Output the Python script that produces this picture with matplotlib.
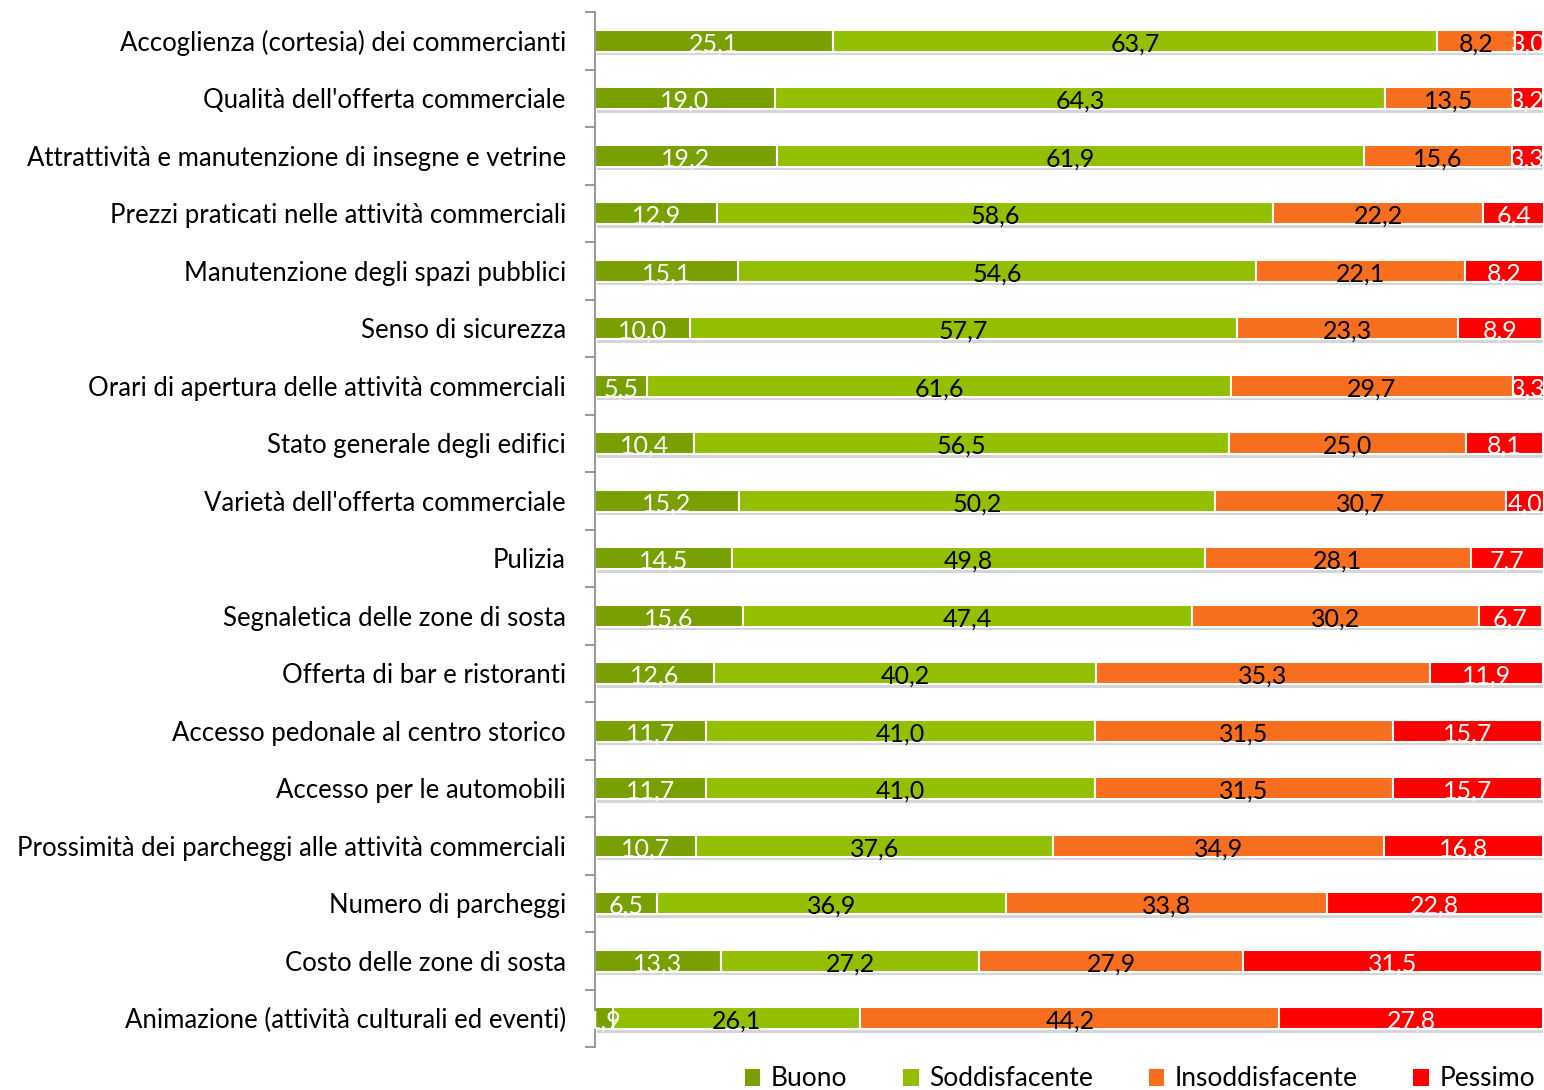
import matplotlib.pyplot as plt
from matplotlib.patches import Patch
import matplotlib.patheffects as pe
import numpy as np

# Data (percentages)
categories = [
    "Accoglienza (cortesia) dei commercianti",
    "Qualità dell'offerta commerciale",
    "Attrattività e manutenzione di insegne e vetrine",
    "Prezzi praticati nelle attività commerciali",
    "Manutenzione degli spazi pubblici",
    "Senso di sicurezza",
    "Orari di apertura delle attività commerciali",
    "Stato generale degli edifici",
    "Varietà dell'offerta commerciale",
    "Pulizia",
    "Segnaletica delle zone di sosta",
    "Offerta di bar e ristoranti",
    "Accesso pedonale al centro storico",
    "Accesso per le automobili",
    "Prossimità dei parcheggi alle attività commerciali",
    "Numero di parcheggi",
    "Costo delle zone di sosta",
    "Animazione (attività culturali ed eventi)",
]
buono = [25.1, 19.0, 19.2, 12.9, 15.1, 10.0, 5.5, 10.4, 15.2, 14.5, 15.6, 12.6, 11.7, 11.7, 10.7, 6.5, 13.3, 1.9]
soddisfacente = [63.7, 64.3, 61.9, 58.6, 54.6, 57.7, 61.6, 56.5, 50.2, 49.8, 47.4, 40.2, 41.0, 41.0, 37.6, 36.9, 27.2, 26.1]
insoddisfacente = [8.2, 13.5, 15.6, 22.2, 22.1, 23.3, 29.7, 25.0, 30.7, 28.1, 30.2, 35.3, 31.5, 31.5, 34.9, 33.8, 27.9, 44.2]
pessimo = [3.0, 3.2, 3.3, 6.4, 8.2, 8.9, 3.3, 8.1, 4.0, 7.7, 6.7, 11.9, 15.7, 15.7, 16.8, 22.8, 31.5, 27.8]
series_names = ["Buono", "Soddisfacente", "Insoddisfacente", "Pessimo"]

colors = ["#77A000", "#92C000", "#F76E1E", "#FF0000"]
text_colors = ["white", "black", "black", "white"]

plt.rcParams['font.family'] = ['Lato', 'DejaVu Sans']

fig = plt.figure(figsize=(15.44, 10.9), dpi=100)
ax = fig.add_axes([595 / 1544, 43 / 1090, (1543 - 595) / 1544, (1047 - 12) / 1090])

y = np.arange(len(categories))
left = np.zeros(len(categories))
shadow = [pe.SimplePatchShadow(offset=(1.5, -2.5), shadow_rgbFace="#888888", alpha=0.35), pe.Normal()]

for vals, name, col, tcol in zip([buono, soddisfacente, insoddisfacente, pessimo],
                                 series_names, colors, text_colors):
    vals = np.array(vals)
    bars = ax.barh(y, vals, left=left, height=0.38, color=col, edgecolor="white",
                   linewidth=1.5, label=name)
    for b in bars:
        b.set_path_effects(shadow)
    for yi, l, v in zip(y, left, vals):
        ax.text(l + v / 2, yi + 0.05, f"{v:.1f}".replace(".", ","), ha="center", va="center",
                fontsize=18, color=tcol, clip_on=False)
    left += vals

ax.set_xlim(0, 100)
ax.set_ylim(len(categories) - 0.5, -0.5)
ax.set_yticks(y)
ax.set_yticklabels(categories, fontsize=18.5)
ax.set_yticks(np.arange(-0.5, len(categories), 1), minor=True)
ax.tick_params(axis="y", which="major", length=0, pad=21)
ax.tick_params(axis="y", which="minor", length=7, width=1.2, color="#888888")
ax.set_xticks([])
for s in ["top", "right", "bottom"]:
    ax.spines[s].set_visible(False)
ax.spines["left"].set_color("#888888")
ax.spines["left"].set_linewidth(1.2)

handles = [Patch(facecolor=c, label=n) for c, n in zip(colors, series_names)]
fig.legend(handles=handles, loc="center", bbox_to_anchor=(1140 / 1544, 1 - 1079 / 1090),
           ncol=4, frameon=False, fontsize=19, handlelength=0.6, handleheight=0.6,
           handletextpad=0.4, columnspacing=2.1, borderpad=0.1)

fig.savefig("out.png", dpi=100)
